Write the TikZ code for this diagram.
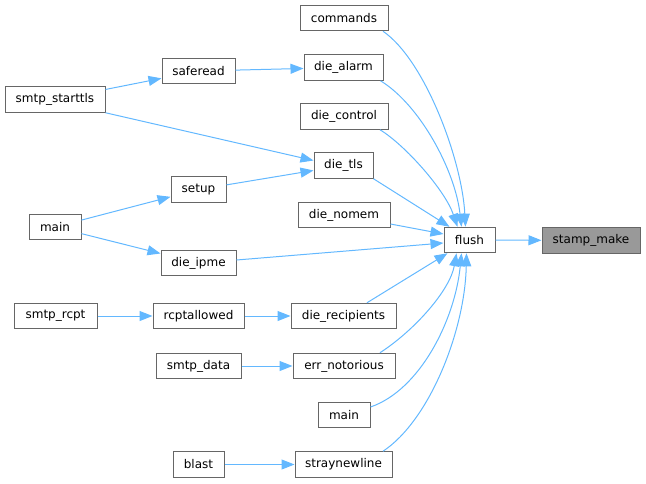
\documentclass[tikz,border=0pt]{standalone}
\usepackage{fontspec}
\setmainfont{DejaVu Sans}
\usetikzlibrary{arrows.meta}
\definecolor{edgeblue}{HTML}{63B8FF}
\definecolor{boxborder}{HTML}{666666}
\definecolor{hlfill}{HTML}{999999}
\tikzset{
  box/.style={draw=boxborder, line width=1pt, fill=white, minimum height=25.5pt, inner sep=0pt, font=\fontsize{12pt}{14pt}\selectfont, text=black},
  hlbox/.style={box, fill=hlfill},
  edge/.style={draw=edgeblue, line width=1pt, -{Triangle[length=13pt,width=10pt]}},
}
\begin{document}
\begin{tikzpicture}[x=1pt,y=-1pt]
\useasboundingbox (0,0) rectangle (646,483);
% nodes
\node[box, minimum width=88pt] (commands) at (344,18) {commands};
\node[box, minimum width=79pt] (die_alarm) at (343.5,67.5) {die\_alarm};
\node[box, minimum width=73pt] (saferead) at (198.5,71) {saferead};
\node[box, minimum width=100pt] (smtp_starttls) at (55,99.5) {smtp\_starttls};
\node[box, minimum width=88pt] (die_control) at (344,116.5) {die\_control};
\node[box, minimum width=59pt] (die_tls) at (343.5,165.5) {die\_tls};
\node[box, minimum width=55pt] (setup) at (198.5,189.5) {setup};
\node[box, minimum width=52pt] (mainl) at (55,227) {main};
\node[box, minimum width=92pt] (die_nomem) at (344,215) {die\_nomem};
\node[box, minimum width=75pt] (die_ipme) at (198.5,263) {die\_ipme};
\node[box, minimum width=83pt] (smtp_rcpt) at (55.5,316) {smtp\_rcpt};
\node[box, minimum width=91pt] (rcptallowed) at (198.5,316) {rcptallowed};
\node[box, minimum width=105pt] (die_recipients) at (343.5,316) {die\_recipients};
\node[box, minimum width=85pt] (smtp_data) at (198.5,366) {smtp\_data};
\node[box, minimum width=102pt] (err_notorious) at (344,366) {err\_notorious};
\node[box, minimum width=52pt] (mainr) at (344,415) {main};
\node[box, minimum width=51pt] (blast) at (198.5,464.5) {blast};
\node[box, minimum width=97pt] (straynewline) at (343.5,464.5) {straynewline};
\node[box, minimum width=51pt] (flush) at (469.5,240) {flush};
\node[hlbox, minimum width=98pt] (stamp_make) at (591,240.5) {stamp\_make};
% edges
\draw[edge] (smtp_starttls) -- (saferead);
\draw[edge] (saferead) -- (die_alarm);
\draw[edge] (smtp_starttls.south east) -- ([yshift=5pt]die_tls.west);
\draw[edge] (setup) -- (die_tls);
\draw[edge] (mainl) -- (setup);
\draw[edge] (mainl) -- (die_ipme);
\draw[edge] (smtp_rcpt) -- (rcptallowed);
\draw[edge] (rcptallowed) -- (die_recipients);
\draw[edge] (smtp_data) -- (err_notorious);
\draw[edge] (blast) -- (straynewline);
\draw[edge] ([xshift=39pt]commands.south) .. controls (425,60) and (462,160) .. ([xshift=-4pt]flush.north);
\draw[edge] ([xshift=37pt]die_alarm.south) .. controls (420,105) and (455,170) .. ([xshift=-8pt]flush.north);
\draw[edge] ([xshift=36pt]die_control.south) .. controls (405,145) and (445,190) .. ([xshift=-12pt]flush.north);
\draw[edge] (die_tls.south east) -- ([xshift=-20pt]flush.north);
\draw[edge] ([yshift=-9pt]die_nomem.east) -- ([yshift=6pt]flush.west);
\draw[edge] ([yshift=3pt]die_ipme.east) -- ([yshift=-3pt]flush.west);
\draw[edge] ([xshift=23.5pt]die_recipients.north) -- ([xshift=-22pt]flush.south);
\draw[edge] ([xshift=36pt]err_notorious.north) .. controls (415,330) and (450,290) .. ([xshift=-13pt]flush.south);
\draw[edge] ([yshift=8pt]mainr.east) .. controls (420,390) and (455,320) .. ([xshift=-8pt]flush.south);
\draw[edge] ([xshift=39.5pt]straynewline.north) .. controls (430,420) and (465,330) .. ([xshift=-3pt]flush.south);
\draw[edge] (flush) -- (stamp_make);
\end{tikzpicture}
\end{document}
